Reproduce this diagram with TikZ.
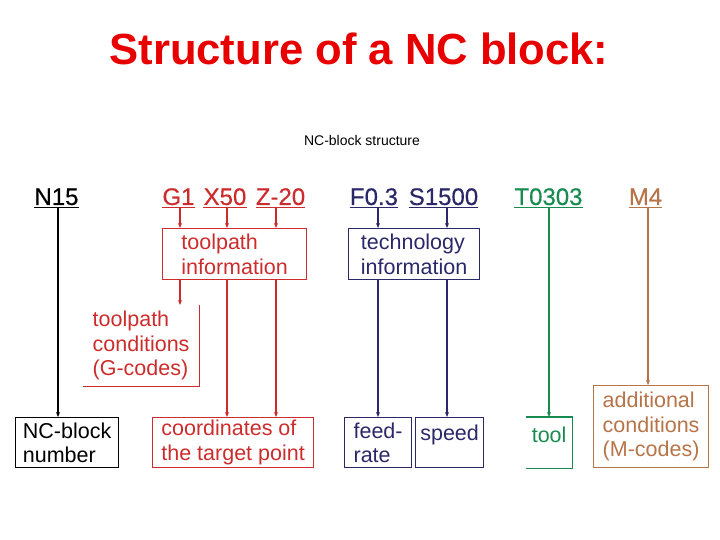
\documentclass[tikz,border=0pt]{standalone}
\usepackage{fontspec}
\setmainfont{Liberation Sans}
\newfontfamily\labfont{Liberation Sans}[BoldFont={Liberation Sans}, BoldFeatures={FakeBold=0.4}]
\usetikzlibrary{arrows.meta}
\definecolor{titlered}{RGB}{232,0,0}
\definecolor{ncred}{RGB}{204,44,44}
\definecolor{ncnavy}{RGB}{42,40,104}
\definecolor{ncgreen}{RGB}{24,140,80}
\definecolor{ncbrown}{RGB}{182,116,72}
\tikzset{
  lab/.style={inner sep=0pt, anchor=base, font=\labfont\bfseries\fontsize{24}{28}\selectfont},
  ul/.style={line width=1.3pt},
  box/.style={draw, line width=1.2pt, inner sep=0pt, align=left, anchor=north west,
    font=\fontsize{21.5}{24.5}\selectfont},
  openbox/.style={box, draw=none},
  arr/.style={line width=1.8pt, -{Stealth[length=5pt,width=4pt]}}
}
\begin{document}
\begin{tikzpicture}[x=1pt,y=-1pt]
\useasboundingbox (0,0) rectangle (720,540);
% title
\node[inner sep=0pt, anchor=base, text=titlered, font=\bfseries\fontsize{43.6}{48}\selectfont] (title) at (359,65) {Structure of a NC block:};
\node[inner sep=0pt, anchor=base, font=\fontsize{14}{16}\selectfont] (sub) at (362,146) {NC-block structure};
% code labels
\node[lab] (N15) at (56.5,205) {N15};
\node[lab, text=ncred] (G1) at (178.5,205) {G1};
\node[lab, text=ncred] (X50) at (225,205) {X50};
\node[lab, text=ncred] (Z20) at (280.5,205) {Z-20};
\node[lab, text=ncnavy] (F03) at (374,205) {F0.3};
\node[lab, text=ncnavy] (S1500) at (443.5,205) {S1500};
\node[lab, text=ncgreen] (T0303) at (548.5,205) {T0303};
\node[lab, text=ncbrown] (M4) at (645.5,205) {M4};
% underlines
\foreach \n/\c in {N15/black,G1/ncred,X50/ncred,Z20/ncred,F03/ncnavy,S1500/ncnavy,T0303/ncgreen,M4/ncbrown}
  \draw[ul, \c] ([yshift=-2.5pt]\n.base west) -- ([yshift=-2.5pt]\n.base east);
% boxes
\node[box, draw=ncred, text=ncred, minimum width=144pt, minimum height=51pt] (tpi) at (162,228) {toolpath\\information};
\node[openbox, text=ncred, minimum width=115pt, minimum height=80pt] (tpc) at (83,305) {toolpath\\conditions\\(G-codes)};
\draw[line width=1.2pt, ncred] (tpc.north east) -- (tpc.south east) -- (tpc.south west);
\node[box, minimum width=103pt, minimum height=50pt] (ncn) at (15,417) {NC-block\\number};
\node[box, draw=ncred, text=ncred, minimum width=161pt, minimum height=50pt] (coord) at (152,417) {coordinates of\\the target point};
\node[box, draw=ncnavy, text=ncnavy, minimum width=131pt, minimum height=51pt] (tech) at (348,228) {technology\\information};
\node[box, draw=ncnavy, text=ncnavy, minimum width=67pt, minimum height=50pt, yshift=0pt] (feed) at (344,417) {feed-\\rate};
\node[box, draw=ncnavy, text=ncnavy, minimum width=68pt, minimum height=50pt, text height=16pt, text depth=20pt] (speed) at (415,417) {speed};
\node[openbox, text=ncgreen, minimum width=45pt, minimum height=50pt, text height=16pt, text depth=16pt] (tool) at (526,417) {tool};
\draw[line width=1.2pt, ncgreen] (tool.north west) -- (tool.north east) -- (tool.south east) -- (tool.south west);
\node[box, draw=ncbrown, text=ncbrown, minimum width=115pt, minimum height=82pt] (addl) at (593,385) {additional\\conditions\\(M-codes)};
% connectors
\draw[arr, line width=2.6pt, black] ([xshift=1.5pt,yshift=-3pt]N15.base) -- ([xshift=1.5pt]N15.base |- ncn.north);
\draw[arr, ncred] ([xshift=1.5pt,yshift=-3pt]G1.base) -- ([xshift=1.5pt]G1.base |- tpi.north);
\draw[arr, ncred] ([xshift=2pt,yshift=-3pt]X50.base) -- ([xshift=2pt]X50.base |- tpi.north);
\draw[arr, ncred] ([xshift=-4.5pt,yshift=-3pt]Z20.base) -- ([xshift=-4.5pt]Z20.base |- tpi.north);
\draw[arr, ncred] ([xshift=1.5pt]G1.base |- tpi.south) -- ([xshift=1.5pt]G1.base |- tpc.north);
\draw[arr, ncred] ([xshift=2pt]X50.base |- tpi.south) -- ([xshift=2pt]X50.base |- coord.north);
\draw[arr, ncred] ([xshift=-4.5pt]Z20.base |- tpi.south) -- ([xshift=-4.5pt]Z20.base |- coord.north);
\draw[arr, ncnavy] ([xshift=4pt,yshift=-3pt]F03.base) -- ([xshift=4pt]F03.base |- tech.north);
\draw[arr, ncnavy] ([xshift=3.5pt,yshift=-3pt]S1500.base) -- ([xshift=3.5pt]S1500.base |- tech.north);
\draw[arr, ncnavy] ([xshift=4pt]F03.base |- tech.south) -- ([xshift=4pt]F03.base |- feed.north);
\draw[arr, ncnavy] ([xshift=3.5pt]S1500.base |- tech.south) -- ([xshift=3.5pt]S1500.base |- speed.north);
\draw[arr, ncgreen, line width=1.5pt] ([xshift=0.5pt,yshift=-3pt]T0303.base) -- ([xshift=0.5pt]T0303.base |- tool.north);
\draw[arr, ncbrown] ([xshift=2.5pt,yshift=-3pt]M4.base) -- ([xshift=2.5pt]M4.base |- addl.north);
\end{tikzpicture}
\end{document}
